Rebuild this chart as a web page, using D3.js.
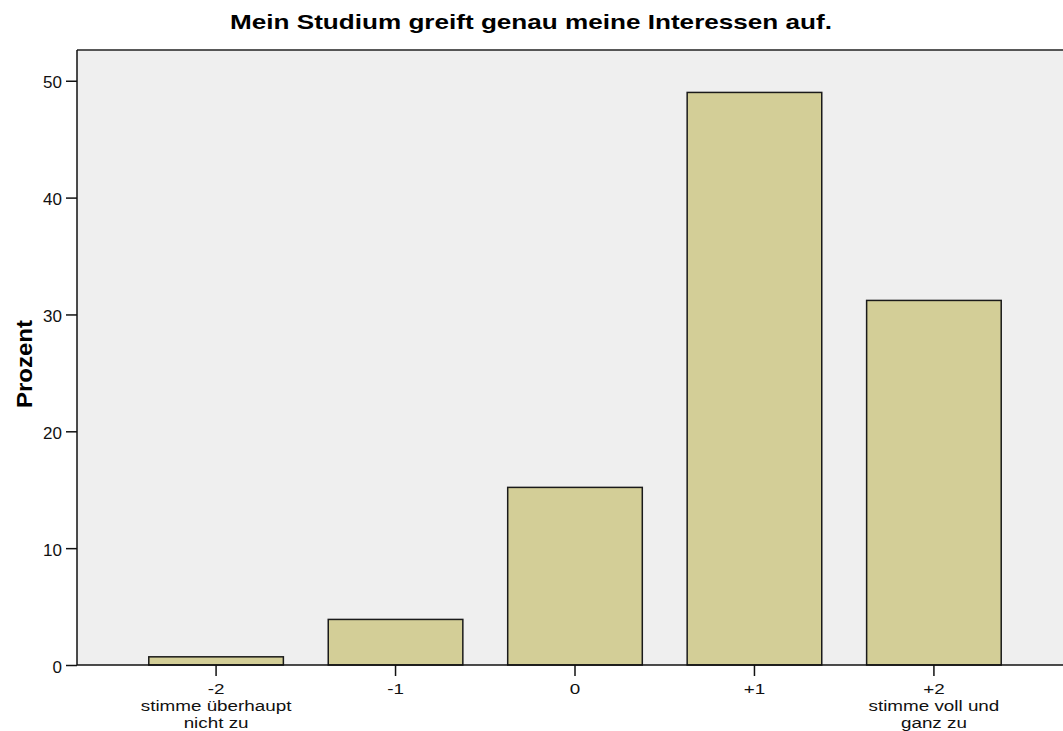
<!DOCTYPE html>
<html><head><meta charset="utf-8">
<script src="https://cdn.jsdelivr.net/npm/d3@7"></script>
<style>body{margin:0;background:#fff}svg{display:block}</style>
</head><body>
<script>
const categories = ["-2", "-1", "0", "+1", "+2"];
const categoryLabels = [["-2","stimme überhaupt","nicht zu"],["-1"],["0"],["+1"],["+2","stimme voll und","ganz zu"]];
const values = [0.7, 3.9, 15.2, 49.0, 31.2];
const yTicks = [0, 10, 20, 30, 40, 50];
const title = "Mein Studium greift genau meine Interessen auf.";
const yTitle = "Prozent";

const W = 1063, H = 731;
const L = 77, T = 50, B = 665, R = 1073;
const svg = d3.select("body").append("svg").attr("width", W).attr("height", H);
const font = "'Liberation Sans', Arial, sans-serif";

const x = d3.scaleBand().domain(categories).range([L, R]).paddingInner(0.25).paddingOuter(0.4);
const y = d3.scaleLinear().domain([0, 50]).range([B, B - 50 * 11.685]);

svg.append("rect").attr("x", L).attr("y", T).attr("width", R - L).attr("height", B - T).attr("fill", "#efefef");

svg.selectAll("rect.bar").data(values).join("rect").attr("class", "bar")
  .attr("x", (d, i) => x(categories[i]))
  .attr("y", d => y(d))
  .attr("width", x.bandwidth())
  .attr("height", d => B - y(d))
  .attr("fill", "#d3ce97").attr("stroke", "#1a1a1a").attr("stroke-width", 1.5);

// frame
svg.append("line").attr("x1", L).attr("x2", R).attr("y1", T).attr("y2", T).attr("stroke", "#222").attr("stroke-width", 1.5);
svg.append("line").attr("x1", L).attr("x2", L).attr("y1", T).attr("y2", B).attr("stroke", "#111").attr("stroke-width", 1.5);

const yAxis = svg.append("g").attr("transform", `translate(${L},0)`)
  .call(d3.axisLeft(y).tickValues(yTicks).tickSize(11).tickPadding(4));
yAxis.select(".domain").remove();
yAxis.selectAll(".tick line").attr("stroke", "#111").attr("stroke-width", 1.5);
yAxis.selectAll(".tick text").attr("font-family", font).attr("font-size", 17).attr("fill", "#111")
  .attr("dy", "0.42em");

const xAxis = svg.append("g").attr("transform", `translate(0,${B})`)
  .call(d3.axisBottom(x).tickSize(11).tickFormat(""));
xAxis.select(".domain").attr("d", `M${L},0H${R}`).attr("stroke", "#111").attr("stroke-width", 1.5);
xAxis.selectAll(".tick line").attr("stroke", "#111").attr("stroke-width", 1.5);
xAxis.selectAll(".tick").each(function(d, i) {
  const t = d3.select(this).append("text").attr("font-family", font).attr("font-size", 14.5)
    .attr("fill", "#111").attr("text-anchor", "middle").attr("transform", "scale(1.3,1)");
  categoryLabels[i].forEach((s, j) => t.append("tspan").attr("x", 0).attr("y", 29 + j * 16.8).text(s));
});

svg.append("text").attr("x", 531).attr("y", 29).attr("text-anchor", "middle")
  .attr("font-family", font).attr("font-weight", "bold").attr("font-size", 20.5).attr("fill", "#000")
  .attr("textLength", 602).attr("lengthAdjust", "spacingAndGlyphs").text(title);

svg.append("text").attr("transform", `translate(32,364) rotate(-90)`).attr("text-anchor", "middle")
  .attr("font-family", font).attr("font-weight", "bold").attr("font-size", 22).attr("fill", "#000")
  .attr("textLength", 88).attr("lengthAdjust", "spacingAndGlyphs").text(yTitle);
</script>
</body></html>
